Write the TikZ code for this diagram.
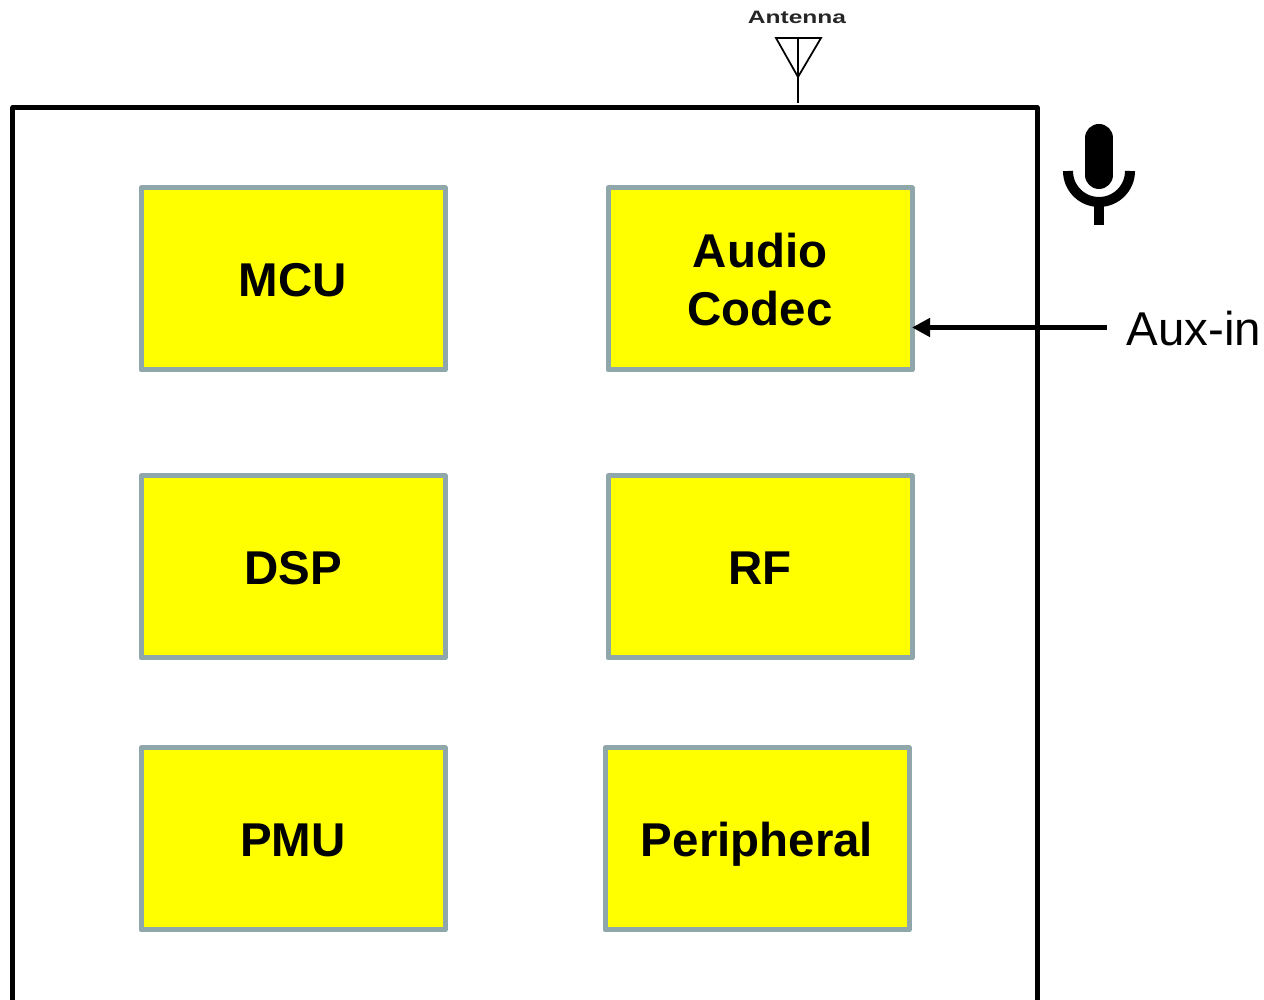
\documentclass[tikz,border=0pt]{standalone}
\usepackage{fontspec}
\setmainfont{Liberation Sans}
\usetikzlibrary{positioning}
\usetikzlibrary{arrows.meta}
\usetikzlibrary{calc}
\definecolor{blockedge}{HTML}{8FA6AA}
\definecolor{blockfill}{RGB}{255,255,0}

\begin{document}
\begin{tikzpicture}[
 block/.style={rectangle, draw=blockedge, fill=blockfill, line width=0.1cm, line join=round, outer sep=0pt, inner sep=0pt, minimum width=6.08cm, minimum height=3.64cm, align=center, text height=19.4pt, text depth=0pt, font=\fontsize{27}{33}\selectfont\bfseries},
 frameline/.style={draw=black, line width=0.1cm, line join=round},
 arrow/.style={-{Triangle[length=0.36cm, width=0.36cm]}, line width=0.1cm},
 thinline/.style={draw=black, line width=0.035cm, line join=miter},
 auxlabel/.style={font=\fontsize{27}{32}\selectfont, text height=21pt, text depth=0pt, inner sep=0pt, outer sep=0pt}
]
\useasboundingbox (0,0) rectangle (25.28,20);

% Outer board, cut off by the lower edge
\coordinate (BL) at (0.26,0);
\coordinate (BR) at (20.74,0);
\draw[frameline] (BL) -- (0.26,17.85) -- (20.74,17.85) -- (BR);

% Blocks
\node[block] (MCU) at (5.86,14.42) {MCU};
\node[block, right=3.26cm of MCU, text height=52.4pt] (Codec) {Audio\\Codec};
\node[block, below=2.12cm of MCU] (DSP) {DSP};
\node[block, right=3.26cm of DSP] (RF) {RF};
\node[block, below=1.8cm of DSP] (PMU) {PMU};
\node[block, right=3.2cm of PMU] (Periph) {Peripheral};

% Aux input
\node[auxlabel, anchor=west] (Aux) at (22.53,13.45) {Aux-in};
\draw[arrow] ([xshift=-0.4cm]Aux.west) -- (Aux.west -| Codec.east);

% Antenna
\node[font=\fontsize{10.2}{12}\selectfont\bfseries, text=black!85, xscale=1.37, inner sep=0pt] (Ant) at (15.94,19.66) {Antenna};
\coordinate (AntL) at (15.52,19.24);
\coordinate (AntR) at (16.42,19.24);
\coordinate (AntTip) at (15.96,18.46);
\coordinate (AntTop) at (15.96,19.24);
\coordinate (AntFoot) at (15.96,17.94);
\draw[thinline] (AntL) -- (AntR) -- (AntTip) -- cycle;
\draw[thinline] (AntTop) -- (AntFoot);

% Microphone
\draw[line width=0.56cm, line cap=round] (21.98,17.24) -- (21.98,16.5);
\draw[line width=0.2cm] (21.36,16.58) arc (180:360:0.62cm);
\draw[line width=0.2cm] (21.98,15.96) -- (21.98,15.49);
\end{tikzpicture}
\end{document}
